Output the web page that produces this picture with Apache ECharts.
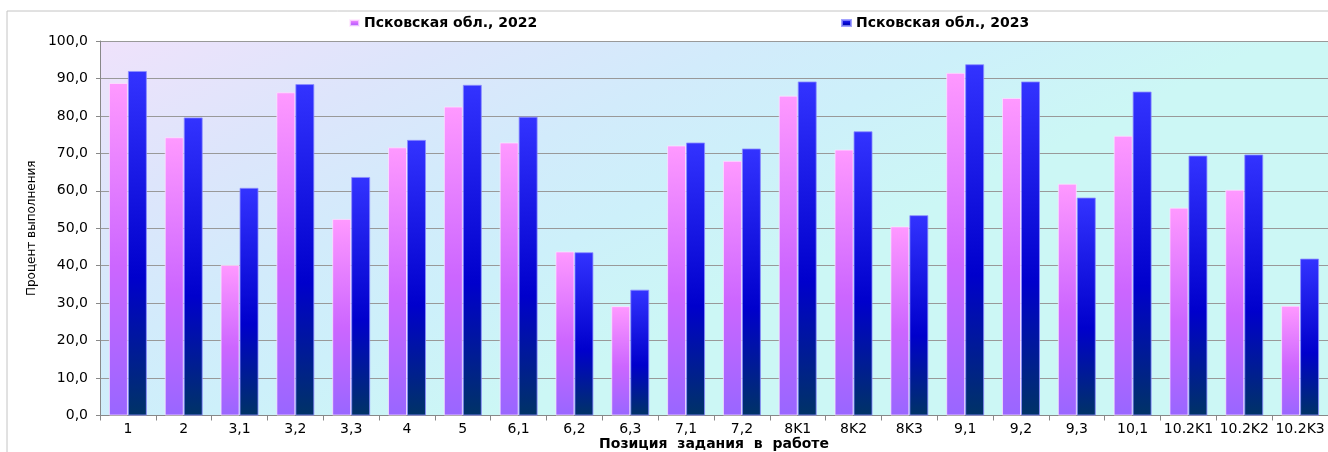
<!DOCTYPE html>
<html>
<head>
<meta charset="utf-8">
<script src="https://cdn.jsdelivr.net/npm/echarts@6/dist/echarts.min.js"></script>
<style>html,body{margin:0;padding:0;background:#fff}#c{width:1328px;height:452px}</style>
</head>
<body>
<div id="c"></div>
<script>
const categories = ['1','2','3,1','3,2','3,3','4','5','6,1','6,2','6,3','7,1','7,2','8K1','8K2','8K3','9,1','9,2','9,3','10,1','10.2K1','10.2K2','10.2K3'];
const values2022 = [88.8,74.3,40.2,86.3,52.5,71.6,82.5,72.9,43.8,29.2,72.1,68.0,85.4,71.0,50.5,91.5,84.8,61.9,74.7,55.5,60.3,29.3];
const values2023 = [92.0,79.6,60.8,88.5,63.7,73.6,88.3,79.8,43.6,33.6,72.9,71.3,89.2,75.9,53.5,93.8,89.2,58.2,86.5,69.4,69.7,41.9];
const seriesNames = ['Псковская обл., 2022','Псковская обл., 2023'];
const yTicks = {min:0,max:100,interval:10};
const yAxisTitle = 'Процент выполнения';
const xAxisTitle = 'Позиция  задания  в  работе';

const chart = echarts.init(document.getElementById('c'));
const grad = (stops)=>({type:'linear',x:0,y:0,x2:0,y2:1,colorStops:stops});
chart.setOption({
  animation:false,
  backgroundColor:'#fff',
  textStyle:{fontFamily:'DejaVu Sans'},
  graphic:[{type:'rect',shape:{x:7,y:11,width:1340,height:460},style:{fill:'none',stroke:'#c4c4c4',lineWidth:1},z:-1,silent:true}],
  legend:[
    {data:[seriesNames[0]],left:349,top:16,padding:0,itemWidth:9,itemHeight:6,itemGap:5,icon:'rect',
     textStyle:{fontFamily:'DejaVu Sans',fontWeight:'bold',fontSize:14,color:'#000'}},
    {data:[seriesNames[1]],left:841,top:16,padding:0,itemWidth:9,itemHeight:6,itemGap:5,icon:'rect',
     textStyle:{fontFamily:'DejaVu Sans',fontWeight:'bold',fontSize:14,color:'#000'}}
  ],
  grid:{left:100,right:0,top:41,bottom:36.5,show:true,borderWidth:0,containLabel:false,outerBoundsMode:'none',
    backgroundColor:{type:'linear',x:100,y:41,x2:320,y2:500,global:true,colorStops:[
      {offset:0,color:'#efe2fb'},{offset:0.3,color:'#dde5fb'},{offset:0.55,color:'#d2ebfb'},{offset:0.75,color:'#cdf0fa'},{offset:1,color:'#ccf7f5'}]}},
  xAxis:{type:'category',data:categories,
    axisLine:{lineStyle:{color:'#888',width:1}},
    axisTick:{show:true,length:5,lineStyle:{color:'#888'}},
    axisLabel:{color:'#000',fontSize:14,margin:7,fontFamily:'DejaVu Sans',interval:0},
    name:xAxisTitle,nameLocation:'middle',nameGap:22,nameMoveOverlap:false,
    nameTextStyle:{fontFamily:'DejaVu Sans',fontWeight:'bold',fontSize:14,color:'#000'}},
  yAxis:{type:'value',min:yTicks.min,max:yTicks.max,interval:yTicks.interval,
    axisLine:{show:true,lineStyle:{color:'#888',width:1}},
    axisTick:{show:true,length:4,lineStyle:{color:'#888'}},
    splitLine:{show:true,lineStyle:{color:'#999',width:1}},
    axisLabel:{color:'#000',fontSize:14,margin:12,fontFamily:'DejaVu Sans',
      formatter:v=>v.toFixed(1).replace('.',',')},
    name:yAxisTitle,nameLocation:'middle',nameGap:62,nameMoveOverlap:false,
    nameTextStyle:{fontFamily:'DejaVu Sans',fontSize:12,color:'#000'}},
  series:[
    {name:seriesNames[0],type:'bar',data:values2022,barGap:'0%',barCategoryGap:'32%',
     itemStyle:{color:grad([{offset:0,color:'#ff99ff'},{offset:0.55,color:'#cc66ff'},{offset:1,color:'#9966ff'}]),
       borderColor:'rgba(255,230,255,0.7)',borderWidth:1}},
    {name:seriesNames[1],type:'bar',data:values2023,
     itemStyle:{color:grad([{offset:0,color:'#3333ff'},{offset:0.6,color:'#0000cc'},{offset:1,color:'#003366'}]),
       borderColor:'rgba(140,140,255,0.8)',borderWidth:1}}
  ]
});
</script>
</body>
</html>
